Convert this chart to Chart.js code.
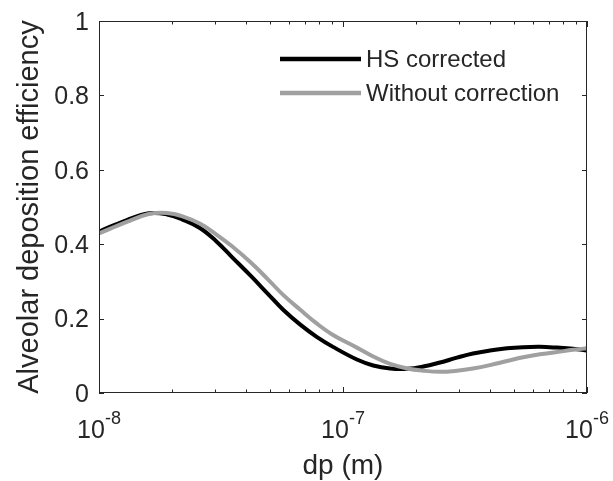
<!DOCTYPE html>
<html>
<head>
<meta charset="utf-8">
<script src="https://cdn.jsdelivr.net/npm/chart.js@4.4.1/dist/chart.umd.min.js"></script>
<style>
  html, body { margin: 0; padding: 0; background: #fff; }
  #wrap { width: 613px; height: 481px; }
</style>
</head>
<body>
<div id="wrap"><canvas id="chart"></canvas></div>
<script>
// --- Data ---
const dp = [1e-8, 1.3e-8, 1.6e-8, 1.9e-8, 2.2e-8, 2.6e-8, 3e-8, 3.5e-8, 4.2e-8, 4.9e-8, 5.7e-8, 6.7e-8, 7.8e-8, 9.1e-8,
            1.14e-7, 1.33e-7, 1.56e-7, 1.83e-7, 2.13e-7, 2.5e-7, 2.93e-7, 3.41e-7, 4e-7, 4.7e-7, 5.47e-7, 6.41e-7,
            7.53e-7, 8.77e-7, 1e-6];
const hsCorrected = [0.434, 0.465, 0.483, 0.480, 0.466, 0.443, 0.410, 0.366, 0.314, 0.268, 0.223, 0.183, 0.151, 0.124,
                     0.090, 0.074, 0.066, 0.065, 0.071, 0.082, 0.095, 0.106, 0.114, 0.120, 0.123, 0.124,
                     0.122, 0.119, 0.114];
const withoutCorrection = [0.429, 0.460, 0.481, 0.484, 0.475, 0.455, 0.428, 0.395, 0.350, 0.307, 0.263, 0.223, 0.187, 0.156,
                           0.122, 0.098, 0.078, 0.066, 0.060, 0.057, 0.060, 0.066, 0.075, 0.086, 0.096, 0.104,
                           0.110, 0.116, 0.120];

const yTicks = [0, 0.2, 0.4, 0.6, 0.8, 1];
const yTickLabels = ['0', '0.2', '0.4', '0.6', '0.8', '1'];
const xDecades = [1e-8, 1e-7, 1e-6];
const xDecadeExps = ['-8', '-7', '-6'];

const seriesNames = ['HS corrected', 'Without correction'];
const seriesColors = ['#000000', '#a0a0a0'];

const FONT = '"Liberation Sans", Arial, sans-serif';
const INK = '#262626';

// --- Axes, ticks, labels and legend (Matlab-like box) ---
const framePlugin = {
    id: 'frame',
    afterDraw(chart) {
        const { ctx, chartArea: a, scales: { x, y } } = chart;
        ctx.save();
        ctx.strokeStyle = INK;
        ctx.lineWidth = 1;
        ctx.strokeRect(a.left + 0.5, a.top + 0.5, a.right - a.left - 1, a.bottom - a.top - 1);

        // y ticks (inside, both sides)
        ctx.beginPath();
        yTicks.forEach(v => {
            const py = Math.round(y.getPixelForValue(v)) + 0.5;
            ctx.moveTo(a.left, py); ctx.lineTo(a.left + 5, py);
            ctx.moveTo(a.right, py); ctx.lineTo(a.right - 5, py);
        });
        // x ticks, major and minor (inside, top and bottom)
        xDecades.forEach((d, i) => {
            for (let m = 1; m <= 9; m++) {
                if (i === xDecades.length - 1 && m > 1) break;
                const px = Math.round(x.getPixelForValue(m * d)) + 0.5;
                const len = m === 1 ? 6 : 3.5;
                ctx.moveTo(px, a.bottom); ctx.lineTo(px, a.bottom - len);
                ctx.moveTo(px, a.top); ctx.lineTo(px, a.top + len);
            }
        });
        ctx.stroke();

        ctx.fillStyle = INK;
        // y tick labels
        ctx.font = '25px ' + FONT;
        ctx.textAlign = 'right';
        ctx.textBaseline = 'middle';
        yTicks.forEach((v, i) => {
            ctx.fillText(yTickLabels[i], a.left - 10, y.getPixelForValue(v) + 2);
        });

        // x tick labels 10^n
        ctx.textBaseline = 'alphabetic';
        xDecades.forEach((d, i) => {
            const px = x.getPixelForValue(d);
            ctx.font = '25px ' + FONT;
            const wBase = ctx.measureText('10').width;
            ctx.font = '18px ' + FONT;
            const wExp = ctx.measureText(xDecadeExps[i]).width;
            const start = px - (wBase + wExp) / 2;
            ctx.textAlign = 'left';
            ctx.font = '25px ' + FONT;
            ctx.fillText('10', start, 438);
            ctx.font = '18px ' + FONT;
            ctx.fillText(xDecadeExps[i], start + wBase, 424);
        });

        // axis titles
        ctx.font = '28px ' + FONT;
        ctx.textAlign = 'center';
        ctx.fillText('dp (m)', (a.left + a.right) / 2, 474);
        ctx.save();
        ctx.font = '29px ' + FONT;
        ctx.translate(38, (a.top + a.bottom) / 2);
        ctx.rotate(-Math.PI / 2);
        ctx.fillText('Alveolar deposition efficiency', 0, 0);
        ctx.restore();

        // legend
        const legendY = [59, 93];
        ctx.font = '24px ' + FONT;
        ctx.textAlign = 'left';
        ctx.textBaseline = 'middle';
        seriesNames.forEach((name, i) => {
            ctx.strokeStyle = seriesColors[i];
            ctx.lineWidth = 4.5;
            ctx.beginPath();
            ctx.moveTo(280, legendY[i]);
            ctx.lineTo(361, legendY[i]);
            ctx.stroke();
            ctx.fillStyle = INK;
            ctx.fillText(name, 366, legendY[i] + 1);
        });
        ctx.restore();
    }
};

const toPoints = vals => dp.map((v, i) => ({ x: v, y: vals[i] }));

new Chart(document.getElementById('chart'), {
    type: 'line',
    data: {
        datasets: [
            {
                label: seriesNames[0],
                data: toPoints(hsCorrected),
                borderColor: seriesColors[0],
                borderWidth: 4,
                pointRadius: 0,
                tension: 0.4,
                order: 2
            },
            {
                label: seriesNames[1],
                data: toPoints(withoutCorrection),
                borderColor: seriesColors[1],
                borderWidth: 4,
                pointRadius: 0,
                tension: 0.4,
                order: 1
            }
        ]
    },
    options: {
        responsive: true,
        maintainAspectRatio: false,
        animation: false,
        layout: { padding: { left: 99, right: 26, top: 21, bottom: 88 } },
        scales: {
            x: { type: 'logarithmic', min: 1e-8, max: 1e-6, display: false },
            y: { type: 'linear', min: 0, max: 1, display: false }
        },
        plugins: {
            legend: { display: false },
            tooltip: { enabled: false }
        }
    },
    plugins: [framePlugin]
});
</script>
</body>
</html>
